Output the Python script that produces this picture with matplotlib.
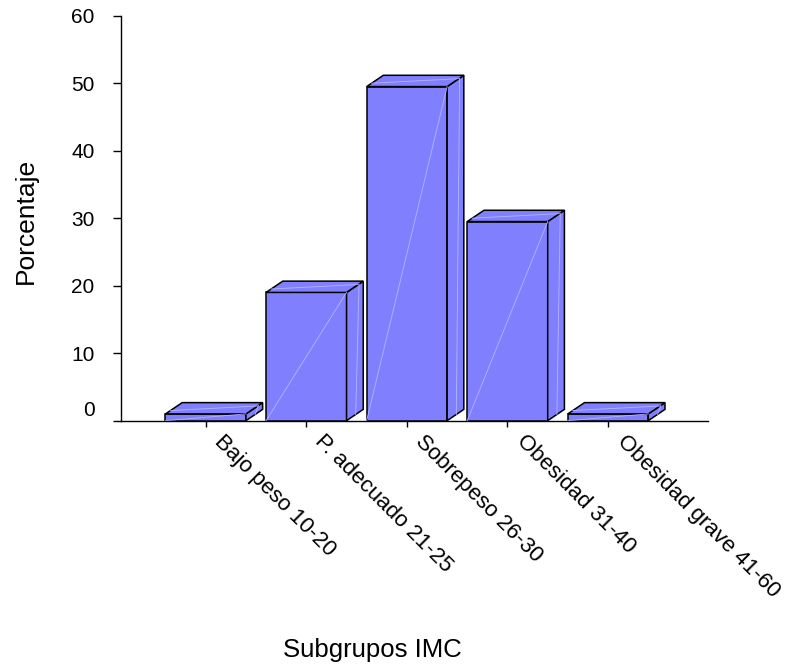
import numpy as np
import matplotlib
matplotlib.use('Agg')
import matplotlib.pyplot as plt
from matplotlib.patches import Polygon
import matplotlib.transforms as mtransforms

plt.rcParams['font.family'] = ['Liberation Sans', 'DejaVu Sans']

# IMC 하위그룹별 비율(%)
subgrupos = ['Bajo peso 10-20', 'P. adecuado 21-25', 'Sobrepeso 26-30',
             'Obesidad 31-40', 'Obesidad grave 41-60']
porcentaje = [1, 19, 49.5, 29.5, 1]

fig = plt.figure(figsize=(7.92, 6.69), dpi=100)
ax = fig.add_axes([0.1528, 0.3712, 0.7412, 0.6053])

x = np.arange(len(subgrupos))
ancho = 0.8
color = '#8080ff'

ax.set_xlim(-0.842, 4.994)
ax.set_ylim(0, 60)

# 3D 효과용 깊이 (픽셀 -> 데이터 단위)
bbox = ax.get_position()
px_x = bbox.width * fig.get_figwidth() * fig.dpi / (ax.get_xlim()[1] - ax.get_xlim()[0])
px_y = bbox.height * fig.get_figheight() * fig.dpi / (ax.get_ylim()[1] - ax.get_ylim()[0])
dx = 16.7 / px_x
dy = 11.3 / px_y

claro = '#b4b4ff'
for xi, h in zip(x, porcentaje):
    x0 = xi - ancho / 2
    x1 = xi + ancho / 2
    # 앞면
    ax.add_patch(Polygon([(x0, 0), (x1, 0), (x1, h), (x0, h)], closed=True,
                         facecolor=color, edgecolor='black', linewidth=1.1, zorder=3))
    ax.plot([x0, x1], [0, h], color=claro, linewidth=0.6, zorder=3.5)
    # 옆면
    ax.add_patch(Polygon([(x1, 0), (x1 + dx, dy), (x1 + dx, h + dy), (x1, h)], closed=True,
                         facecolor=color, edgecolor='black', linewidth=1.1, zorder=3))
    ax.plot([x1 + dx * 0.55, x1 + dx * 0.75], [dy * 0.55, h + dy * 0.75],
            color=claro, linewidth=0.6, zorder=3.5)
    # 윗면
    ax.add_patch(Polygon([(x0, h), (x0 + dx, h + dy), (x1 + dx, h + dy), (x1, h)], closed=True,
                         facecolor=color, edgecolor='black', linewidth=1.1, zorder=3))
    ax.plot([x0 + dx * 0.3, x1 + dx * 0.7], [h + dy * 0.3, h + dy * 0.7],
            color=claro, linewidth=0.6, zorder=3.5)

ax.spines['top'].set_visible(False)
ax.spines['right'].set_visible(False)
ax.spines['left'].set_linewidth(1.0)
ax.spines['bottom'].set_linewidth(1.0)
ax.spines['left'].set_zorder(4)

ax.set_yticks(range(0, 61, 10))
ax.tick_params(axis='y', direction='out', length=6, width=1.0, pad=13, labelsize=15)
ax.tick_params(axis='x', direction='out', length=4.5, width=1.0, pad=4, labelsize=16)

ax.set_xticks(x)
ax.set_xticklabels(subgrupos, rotation=-45, ha='left', va='top', rotation_mode='anchor')

# x 레이블은 오른쪽으로 조금 이동
desplaza = mtransforms.ScaledTranslation(14 / 72, 1 / 72, fig.dpi_scale_trans)
for lab in ax.get_xticklabels():
    lab.set_transform(lab.get_transform() + desplaza)

# 0 레이블은 조금 위로
lab0 = ax.get_yticklabels()[0]
lab0.set_transform(lab0.get_transform() + mtransforms.ScaledTranslation(0, 9 / 72, fig.dpi_scale_trans))

fig.text(26 / 792, 1 - 221 / 669, 'Porcentaje', rotation=90, ha='center', va='center', fontsize=19)
fig.text(372 / 792, 1 - 650 / 669, 'Subgrupos IMC', ha='center', va='center', fontsize=18.5)

plt.savefig('out.png', dpi=100)
